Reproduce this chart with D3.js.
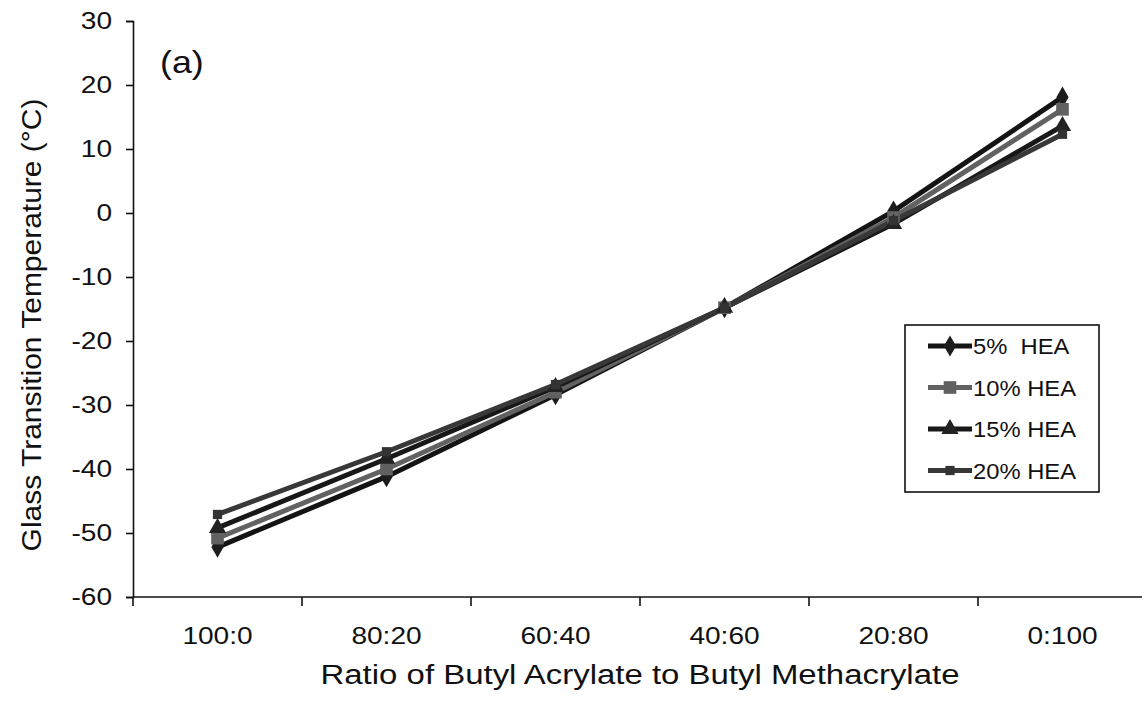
<!DOCTYPE html>
<html>
<head>
<meta charset="utf-8">
<script src="https://cdn.jsdelivr.net/npm/d3@7"></script>
<style>
  body { margin: 0; background: #fff; }
  text { font-family: "Liberation Sans", Arial, sans-serif; fill: #111; }
</style>
</head>
<body>
<svg id="chart"></svg>
<script>
// categories along the x axis
const ratios = ["100:0", "80:20", "60:40", "40:60", "20:80", "0:100"];

// Tg values (°C), one array per HEA content
const hea5  = [-52.2, -41.2, -28.4, -14.8, 0.3, 18.1];
const hea10 = [-50.8, -40.0, -28.0, -14.8, -0.7, 16.2];
const hea15 = [-49.2, -38.4, -27.2, -14.8, -1.7, 13.6];
const hea20 = [-47.1, -37.3, -26.8, -14.8, -1.2, 12.3];

const seriesNames = ["5%  HEA", "10% HEA", "15% HEA", "20% HEA"];
const yTicks = [30, 20, 10, 0, -10, -20, -30, -40, -50, -60];

const series = [
  {name: seriesNames[0], values: hea5,  color: "#141414", marker: d3.symbolDiamond, size: 130, fill: "#1c1c1c"},
  {name: seriesNames[1], values: hea10, color: "#626262", marker: d3.symbolSquare,  size: 160, fill: "#616161"},
  {name: seriesNames[2], values: hea15, color: "#181818", marker: d3.symbolTriangle, size: 130, fill: "#222"},
  {name: seriesNames[3], values: hea20, color: "#383838", marker: d3.symbolSquare,  size: 85,  fill: "#333"}
];

const width = 1142, height = 714;
const margin = {top: 21, bottom: 117, left: 133, right: -5};

const svg = d3.select("#chart")
    .attr("width", width)
    .attr("height", height);

// the scanned figure is a bit wider than tall, so text is stretched sideways
function stretch(sel, k) {
  sel.each(function() {
    const w = this.getComputedTextLength();
    d3.select(this)
      .attr("textLength", w * k)
      .attr("lengthAdjust", "spacingAndGlyphs");
  });
}

const xScale = d3.scaleBand()
    .domain(ratios)
    .range([margin.left, width - margin.right])
    .padding(0);

const yScale = d3.scaleLinear()
    .domain([-60, 30])
    .range([height - margin.bottom, margin.top]);

// y axis
const yAxis = svg.append("g")
    .attr("transform", `translate(${margin.left},0)`)
    .call(d3.axisLeft(yScale).tickValues(yTicks).tickFormat(d => String(d)).tickSize(7).tickPadding(14));
yAxis.selectAll("text").style("font-size", "23px").call(stretch, 1.22);

// x axis, ticks on the band edges
const xAxis = svg.append("g")
    .attr("transform", `translate(0,${height - margin.bottom})`)
    .call(d3.axisBottom(xScale).tickSize(0).tickPadding(31));
xAxis.selectAll("text").style("font-size", "23px").call(stretch, 1.22);
xAxis.selectAll(".edge")
    .data(ratios.concat(["end"]))
    .enter().append("line")
    .attr("class", "edge")
    .attr("x1", (d, i) => margin.left + i * xScale.bandwidth())
    .attr("x2", (d, i) => margin.left + i * xScale.bandwidth())
    .attr("y1", 0)
    .attr("y2", 9)
    .attr("stroke", "#111");

svg.selectAll(".domain, .tick line, .edge").attr("stroke", "#111").attr("stroke-width", 1.6);
xAxis.select(".domain").attr("d", `M${margin.left},0H${width + 10}`);

// lines and markers
const line = d3.line()
    .x((d, i) => xScale(ratios[i]) + xScale.bandwidth() / 2)
    .y(d => yScale(d));

series.forEach(s => {
  svg.append("path")
      .datum(s.values)
      .attr("fill", "none")
      .attr("stroke", s.color)
      .attr("stroke-width", 5)
      .attr("d", line);
});
series.forEach(s => {
  svg.selectAll(null)
      .data(s.values)
      .enter().append("path")
      .attr("transform", (d, i) => `translate(${xScale(ratios[i]) + xScale.bandwidth() / 2},${yScale(d)})`)
      .attr("d", d3.symbol().type(s.marker).size(s.size))
      .attr("fill", s.fill);
});

// panel label
svg.append("text")
    .attr("x", 160)
    .attr("y", 73)
    .style("font-size", "32px")
    .text("(a)")
    .call(stretch, 1.12);

// axis titles
svg.append("text")
    .attr("text-anchor", "middle")
    .attr("x", 640)
    .attr("y", 684)
    .style("font-size", "27px")
    .text("Ratio of Butyl Acrylate to Butyl Methacrylate")
    .call(stretch, 1.22);

svg.append("text")
    .attr("text-anchor", "middle")
    .attr("transform", "rotate(-90)")
    .attr("x", -325)
    .attr("y", 41)
    .style("font-size", "27px")
    .text("Glass Transition Temperature (°C)")
    .call(stretch, 1.11);

// legend
const legendBox = {x: 905, y: 325, w: 194, h: 167};
svg.append("rect")
    .attr("x", legendBox.x)
    .attr("y", legendBox.y)
    .attr("width", legendBox.w)
    .attr("height", legendBox.h)
    .attr("fill", "#fff")
    .attr("stroke", "#111")
    .attr("stroke-width", 1.6);

const legend = svg.selectAll(".legend")
    .data(series)
    .enter().append("g")
    .attr("class", "legend")
    .attr("transform", (d, i) => `translate(${legendBox.x + 23}, ${legendBox.y + 21 + i * 41.5})`);

legend.append("line")
    .attr("x1", 0)
    .attr("x2", 44)
    .attr("stroke", d => d.color)
    .attr("stroke-width", 5);

legend.append("path")
    .attr("transform", "translate(22,0)")
    .attr("d", d => d3.symbol().type(d.marker).size(d.size)())
    .attr("fill", d => d.fill);

legend.append("text")
    .attr("x", 45)
    .attr("y", 8)
    .style("font-size", "22px")
    .style("white-space", "pre")
    .text(d => d.name)
    .call(stretch, 1.08);
</script>
</body>
</html>
